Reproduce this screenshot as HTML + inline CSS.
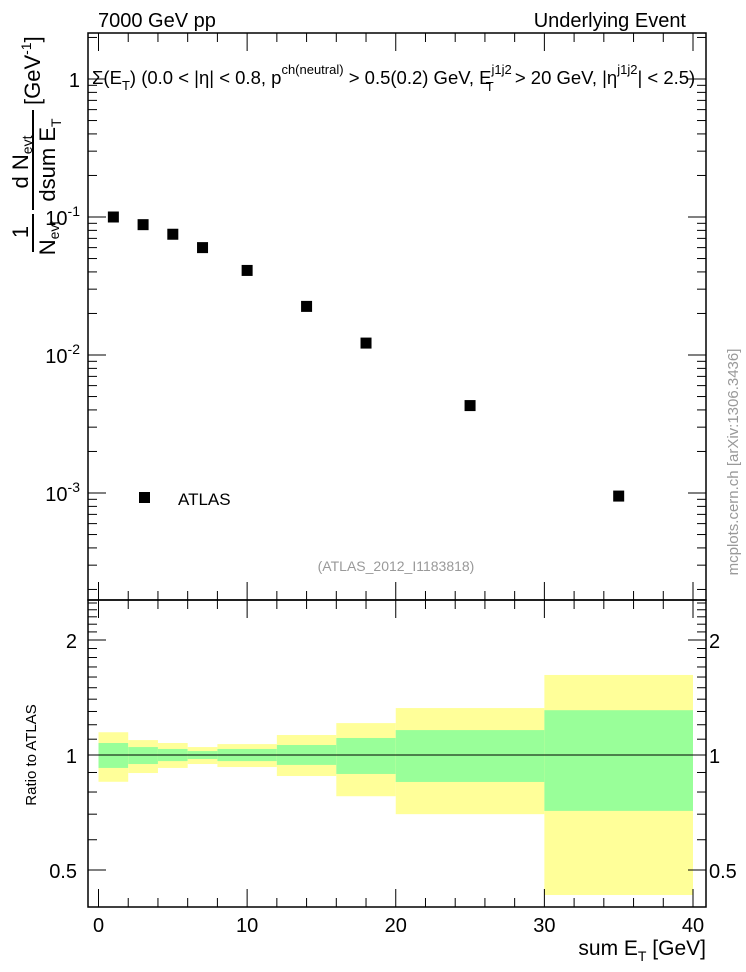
<!DOCTYPE html>
<html><head><meta charset="utf-8"><style>
body{margin:0;background:#fff}
svg{display:block;font-family:"Liberation Sans",sans-serif}
</style></head><body>
<svg id="c" width="746" height="972" viewBox="0 0 746 972">
<g id="bands"></g>
<g id="axes"></g>
<g id="pts"></g>
<text x="98" y="27" font-size="20">7000 GeV pp</text>
<text x="686" y="27" font-size="20" text-anchor="end">Underlying Event</text>
<text x="92" y="84" font-size="18.5">Σ(E<tspan font-size="13" dy="6">T</tspan><tspan dy="-6">) (0.0 &lt; |η| &lt; 0.8, p</tspan><tspan font-size="13" dy="-10">ch(neutral)</tspan><tspan dy="10"> &gt; 0.5(0.2) GeV, E</tspan><tspan font-size="13" dy="-10">j1j2</tspan><tspan font-size="13" dx="-26" dy="17">T</tspan><tspan dx="16" dy="-7"> &gt; 20 GeV, |η</tspan><tspan font-size="13" dy="-10">j1j2</tspan><tspan dy="10">| &lt; 2.5)</tspan></text>
<g transform="rotate(-90)">
<text x="-232" y="28" font-size="22" text-anchor="middle">1</text>
<line x1="-252" y1="33" x2="-214" y2="33" stroke="#000" stroke-width="2"/>
<text x="-238" y="55" font-size="22" text-anchor="middle">N<tspan font-size="14" dy="4">evt</tspan></text>
<text x="-162" y="28" font-size="22" text-anchor="middle">d N<tspan font-size="14" dy="4">evt</tspan></text>
<line x1="-210" y1="33" x2="-110" y2="33" stroke="#000" stroke-width="2"/>
<text x="-160" y="55" font-size="22" text-anchor="middle">dsum E<tspan font-size="14" dy="6">T</tspan></text>
<text x="-105" y="40" font-size="22">[GeV<tspan font-size="14" dy="-9">-1</tspan><tspan dy="9">]</tspan></text>
</g>
<text transform="translate(36,755) rotate(-90)" font-size="15" text-anchor="middle">Ratio to ATLAS</text>
<text x="706" y="955" font-size="21" text-anchor="end">sum E<tspan font-size="14" dy="6">T</tspan><tspan dy="-6"> [GeV]</tspan></text>
<rect x="139" y="492" width="11" height="11" fill="#000"/>
<text x="178" y="505" font-size="17">ATLAS</text>
<text x="396" y="571" font-size="14" fill="#999" text-anchor="middle">(ATLAS_2012_I1183818)</text>
<text transform="translate(738,462) rotate(-90)" font-size="15" fill="#999" text-anchor="middle">mcplots.cern.ch [arXiv:1306.3436]</text>
</svg>
<script>
const xCenters=[1,3,5,7,10,14,18,25,35];
const yValues=[0.1,0.088,0.075,0.06,0.041,0.0225,0.0122,0.0043,0.00095];
const binEdges=[0,2,4,6,8,12,16,20,30,40];
const yellowHi=[1.147,1.094,1.075,1.049,1.068,1.128,1.212,1.327,1.62];
const greenHi=[1.075,1.049,1.037,1.024,1.037,1.062,1.108,1.162,1.31];
const greenLo=[0.925,0.947,0.964,0.976,0.964,0.942,0.892,0.85,0.714];
const yellowLo=[0.851,0.897,0.925,0.947,0.93,0.881,0.78,0.70,0.43];
const xTicks=[0,10,20,30,40];
const ratioTicks=[0.5,1,2];
const NS='http://www.w3.org/2000/svg';
const L=88,R=706,T=33,MB=600,RB=907;
const X=v=>98.5+v*(693-98.5)/40;
const Y=v=>79-138*Math.log10(v);
const RY=v=>755-382*Math.log10(v);
function mk(p,tag,a){const e=document.createElementNS(NS,tag);for(const k in a)e.setAttribute(k,a[k]);p.appendChild(e);return e;}
const ax=document.getElementById('axes'),bd=document.getElementById('bands'),pt=document.getElementById('pts');
for(let i=0;i<binEdges.length-1;i++){
 const x0=X(binEdges[i]),x1=X(binEdges[i+1]);
 const y=mk(bd,'rect',{x:x0,y:RY(yellowHi[i]),width:x1-x0,height:RY(yellowLo[i])-RY(yellowHi[i]),fill:'#ffff99'});
 
 
 const g=mk(bd,'rect',{x:x0,y:RY(greenHi[i]),width:x1-x0,height:RY(greenLo[i])-RY(greenHi[i]),fill:'#99ff99'});
 
 
}
mk(ax,'line',{x1:L,x2:R,y1:RY(1),y2:RY(1),stroke:'#000','stroke-width':1});
mk(ax,'rect',{x:L,y:T,width:R-L,height:MB-T,fill:'none',stroke:'#000','stroke-width':1.5});
mk(ax,'rect',{x:L,y:MB,width:R-L,height:RB-MB,fill:'none',stroke:'#000','stroke-width':1.5});
for(let v=0;v<=40;v+=2){const big=v%10===0,len=big?18:9;
 [[MB,-1],[RB,-1],[MB,1],[T,1]].forEach(([y,d])=>mk(ax,'line',{x1:X(v),x2:X(v),y1:y,y2:y+d*len,stroke:'#000'}));}
xTicks.forEach(v=>{const t=mk(ax,'text',{x:X(v),y:932,'font-size':20,'text-anchor':'middle'});t.textContent=v;
 
 });
for(let e=-4;e<=0;e++)for(let m=1;m<=9;m++){const v=m*Math.pow(10,e),y=Y(v);if(y<T||y>MB)continue;const len=m===1?18:9;
 mk(ax,'line',{x1:L,x2:L+len,y1:y,y2:y,stroke:'#000'});mk(ax,'line',{x1:R,x2:R-len,y1:y,y2:y,stroke:'#000'});}
[[1,'1'],[0.1,'-1'],[0.01,'-2'],[0.001,'-3']].forEach(([v,s])=>{const t=mk(ax,'text',{x:80,y:Y(v)+8,'font-size':20,'text-anchor':'end'});
 if(v===1)t.textContent='1';else{t.innerHTML='10<tspan font-size="14" dy="-9">'+s+'</tspan>';}
 
 });
[0.4,0.5,0.6,0.7,0.8,0.9,1,1.1,1.2,1.3,1.4,1.5,1.6,1.7,1.8,1.9,2,2.1,2.2,2.3,2.4,2.5].forEach(v=>{const y=RY(v);if(y<MB||y>RB)return;const big=ratioTicks.includes(v),len=big?18:9;
 mk(ax,'line',{x1:L,x2:L+len,y1:y,y2:y,stroke:'#000'});mk(ax,'line',{x1:R,x2:R-len,y1:y,y2:y,stroke:'#000'});});
ratioTicks.forEach(v=>{[[77,'end'],[709,'start']].forEach(([x,a])=>{const t=mk(ax,'text',{x:x,y:RY(v)+8,'font-size':20,'text-anchor':a});t.textContent=v;
 
 });});
xCenters.forEach((v,i)=>{const r=mk(pt,'rect',{x:X(v)-5.5,y:Y(yValues[i])-5.5,width:11,height:11,fill:'#000'});
 
 });
</script>
</body></html>
